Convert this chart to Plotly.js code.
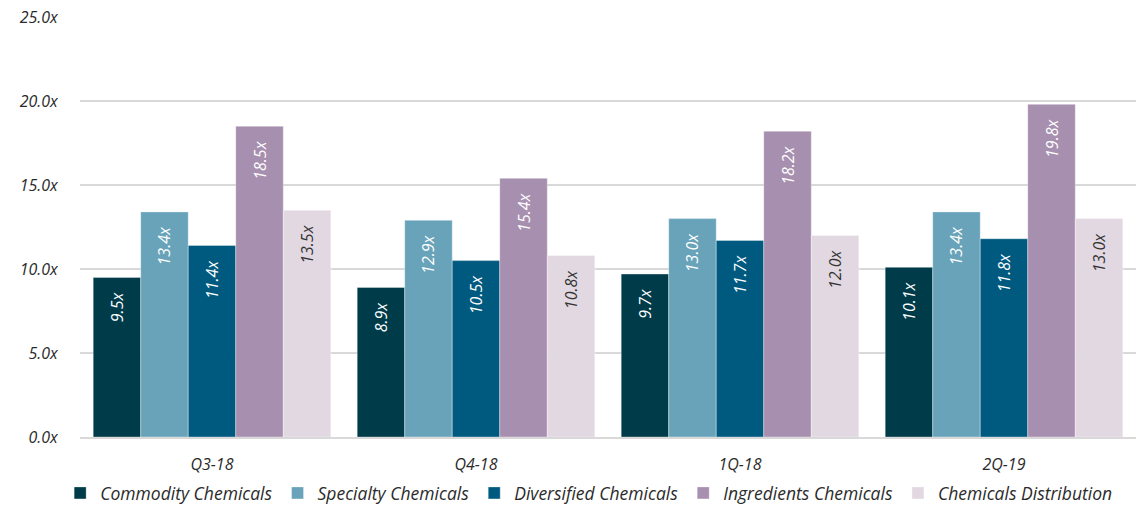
<!DOCTYPE html>
<html>
<head>
<meta charset="utf-8">
<script src="https://cdn.plot.ly/plotly-3.0.1.min.js"></script>
<style>html,body{margin:0;padding:0;background:#fff;}#chart{width:1143px;height:511px;}</style>
</head>
<body>
<div id="chart"></div>
<script>
const categories = ["Q3-18", "Q4-18", "1Q-18", "2Q-19"];
const seriesNames = ["Commodity Chemicals", "Specialty Chemicals", "Diversified Chemicals", "Ingredients Chemicals", "Chemicals Distribution"];
const commodity = [9.5, 8.9, 9.7, 10.1];
const specialty = [13.4, 12.9, 13.0, 13.4];
const diversified = [11.4, 10.5, 11.7, 11.8];
const ingredients = [18.5, 15.4, 18.2, 19.8];
const distribution = [13.5, 10.8, 12.0, 13.0];
const colors = ["#003B4A", "#68A3BA", "#005A80", "#A78FAF", "#E2D8E2"];
const textColors = ["#ffffff", "#ffffff", "#ffffff", "#ffffff", "#333333"];
const yTicks = [0, 5, 10, 15, 20, 25];

const allSeries = [commodity, specialty, diversified, ingredients, distribution];
const FONT = "'Open Sans', sans-serif";
const PAD = "\u00a0\u00a0\u00a0";

const traces = allSeries.map((vals, i) => ({
  type: "bar",
  name: seriesNames[i],
  x: categories,
  y: vals,
  text: vals.map(v => v.toFixed(1) + "x" + PAD),
  textposition: "inside",
  insidetextanchor: "end",
  textangle: -90,
  textfont: {family: FONT, size: 16, color: textColors[i], style: "italic"},
  insidetextfont: {family: FONT, size: 16, color: textColors[i], style: "italic"},
  marker: {color: colors[i], line: {width: 1, color: "rgba(255,255,255,0.35)"}},
  hoverinfo: "none"
}));

const layout = {
  width: 1143,
  height: 511,
  margin: {l: 80, r: 7, t: 17, b: 74},
  paper_bgcolor: "#ffffff",
  plot_bgcolor: "#ffffff",
  barmode: "group",
  bargap: 0.1,
  bargroupgap: 0,
  font: {family: FONT, size: 16, color: "#2b2b2b", style: "italic"},
  xaxis: {
    tickfont: {family: FONT, size: 16, color: "#2b2b2b", style: "italic"},
    showgrid: false,
    showline: true,
    linecolor: "#d9d9d9",
    linewidth: 2,
    ticks: "outside",
    ticklen: 12,
    tickcolor: "rgba(0,0,0,0)"
  },
  yaxis: {
    range: [0, 25],
    tickvals: yTicks,
    ticktext: yTicks.map(v => v.toFixed(1) + "x"),
    tickfont: {family: FONT, size: 16, color: "#2b2b2b", style: "italic"},
    showgrid: true,
    gridcolor: "#d9d9d9",
    gridwidth: 2,
    zeroline: false,
    showline: false,
    ticks: "outside",
    ticklen: 18,
    tickcolor: "rgba(0,0,0,0)",
    fixedrange: true
  },
  legend: {
    orientation: "h",
    x: 0.515,
    xanchor: "center",
    xref: "container",
    y: -0.012,
    yref: "container",
    yanchor: "bottom",
    font: {family: FONT, size: 17.5, color: "#2b2b2b", style: "italic"},
    itemwidth: 10,
    itemclick: false,
    traceorder: "normal"
  },
  showlegend: true
};

Plotly.newPlot("chart", traces, layout, {displayModeBar: false, staticPlot: true});
</script>
</body>
</html>
